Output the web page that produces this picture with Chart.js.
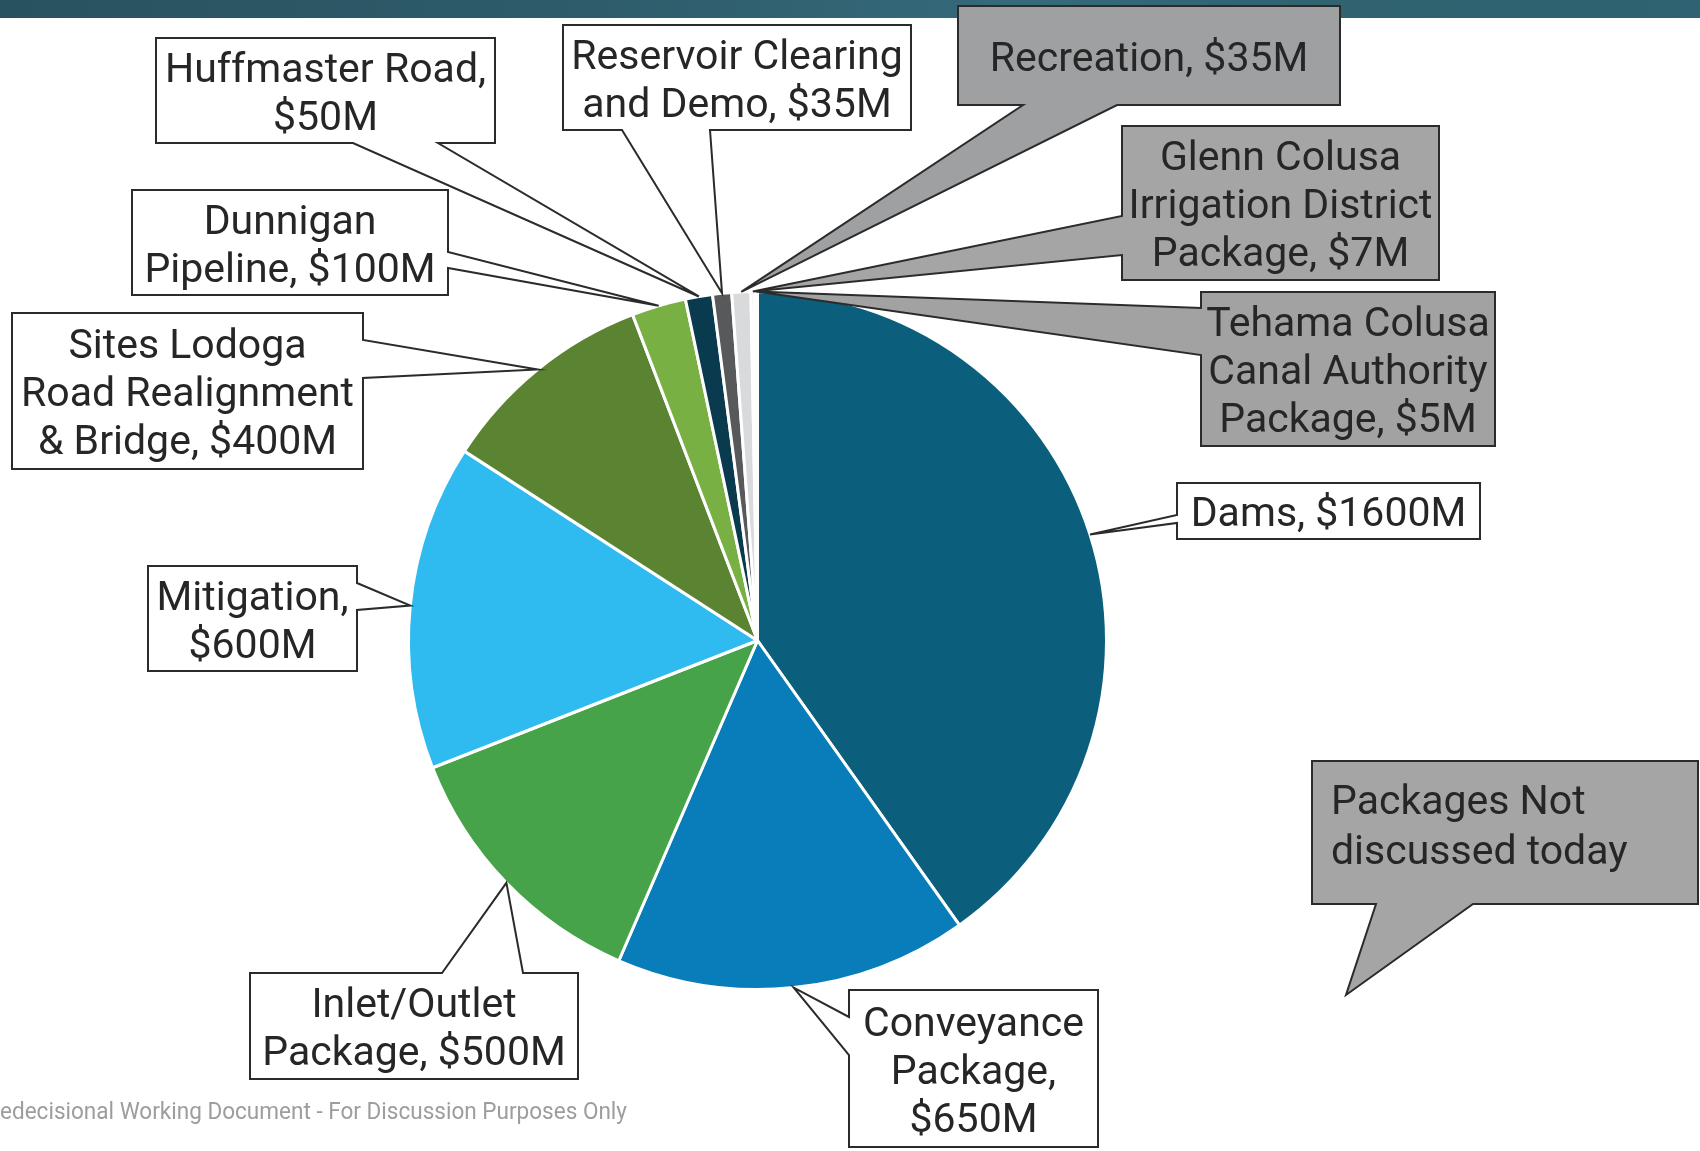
<!DOCTYPE html>
<html>
<head>
<meta charset="utf-8">
<script src="https://cdn.jsdelivr.net/npm/chart.js"></script>
<style>
html, body { margin: 0; padding: 0; background: #ffffff; }
#wrap { position: relative; width: 1700px; height: 1151px; }
</style>
</head>
<body>
<div id="wrap"><canvas id="c"></canvas></div>
<script>
// ---------------- DATA ----------------
const categories = [
  'Dams', 'Conveyance Package', 'Inlet/Outlet Package', 'Mitigation',
  'Sites Lodoga Road Realignment & Bridge', 'Dunnigan Pipeline', 'Huffmaster Road',
  'Reservoir Clearing and Demo', 'Recreation', 'Glenn Colusa Irrigation District Package',
  'Tehama Colusa Canal Authority Package'
];
const costs = [1600, 650, 500, 600, 400, 100, 50, 35, 35, 7, 5];
// label text lines, "#" is replaced with the cost
const labelLines = [
  ['Dams, #'],
  ['Conveyance', 'Package,', '#'],
  ['Inlet/Outlet', 'Package, #'],
  ['Mitigation,', '#'],
  ['Sites Lodoga', 'Road Realignment', '& Bridge, #'],
  ['Dunnigan', 'Pipeline, #'],
  ['Huffmaster Road,', '#'],
  ['Reservoir Clearing', 'and Demo, #'],
  ['Recreation, #'],
  ['Glenn Colusa', 'Irrigation District', 'Package, #'],
  ['Tehama Colusa', 'Canal Authority', 'Package, #']
];
const noteLines = ['Packages Not', 'discussed today'];
const footerText = 'Predecisional Working Document - For Discussion Purposes Only';

// ---------------- STYLE / LAYOUT ----------------
const sliceColors = ['#0b5f7c', '#087dba', '#47a349', '#2fbbef', '#5b8432', '#78b043',
                     '#0a3a4e', '#58595b', '#d9dadb', '#efefef', '#f8f8f8'];
const callouts = [
  { box: [1177, 483, 1480, 539], side: 'left',   at: [515, 523],  kind: 'white' },
  { box: [849, 990, 1098, 1147], side: 'left',   at: [1017, 1055], kind: 'white' },
  { box: [250, 973, 578, 1079],  side: 'top',    at: [442, 523],  kind: 'white' },
  { box: [148, 566, 357, 671],   side: 'right',  at: [583, 610],  kind: 'white' },
  { box: [12, 313, 363, 469],    side: 'right',  at: [340, 378],  kind: 'white' },
  { box: [132, 190, 448, 295],   side: 'right',  at: [252, 268],  kind: 'white' },
  { box: [156, 38, 495, 143],    side: 'bottom', at: [353, 438],  kind: 'white' },
  { box: [563, 25, 911, 130],    side: 'bottom', at: [622, 710],  kind: 'white' },
  { box: [958, 6, 1340, 105],    side: 'bottom', at: [1023, 1117], kind: 'gray', fill: '#9fa0a2' },
  { box: [1122, 126, 1439, 280], side: 'left',   at: [216, 255],  kind: 'gray', fill: '#a5a5a5' },
  { box: [1201, 292, 1495, 446], side: 'left',   at: [308, 355],  kind: 'gray', fill: '#a2a2a2' }
];
const noteBox = { box: [1312, 761, 1698, 904], side: 'bottom', at: [1376, 1473], tip: [1346, 995], fill: '#a5a5a5' };

const LABEL_FONT = '41px Roboto';
const LINE_H = 48;
const TEXT_COLOR = '#262626';

function calloutPath(ctx, c, tip) {
  const [x1, y1, x2, y2] = c.box;
  const [a, b] = c.at;
  ctx.beginPath();
  ctx.moveTo(x1, y1);
  if (c.side === 'top') { ctx.lineTo(a, y1); ctx.lineTo(tip[0], tip[1]); ctx.lineTo(b, y1); }
  ctx.lineTo(x2, y1);
  if (c.side === 'right') { ctx.lineTo(x2, a); ctx.lineTo(tip[0], tip[1]); ctx.lineTo(x2, b); }
  ctx.lineTo(x2, y2);
  if (c.side === 'bottom') { ctx.lineTo(b, y2); ctx.lineTo(tip[0], tip[1]); ctx.lineTo(a, y2); }
  ctx.lineTo(x1, y2);
  if (c.side === 'left') { ctx.lineTo(x1, b); ctx.lineTo(tip[0], tip[1]); ctx.lineTo(x1, a); }
  ctx.closePath();
}

function drawLines(ctx, lines, cx, cy) {
  ctx.font = LABEL_FONT;
  ctx.fillStyle = TEXT_COLOR;
  ctx.textAlign = 'center';
  ctx.textBaseline = 'alphabetic';
  const n = lines.length;
  lines.forEach((t, k) => {
    const yc = cy + (k - (n - 1) / 2) * LINE_H;
    ctx.fillText(t, cx, yc + 15);
  });
}

const calloutPlugin = {
  id: 'callouts',
  beforeDraw(chart) {
    const ctx = chart.ctx;
    ctx.save();
    const g = ctx.createLinearGradient(0, 0, 1700, 0);
    g.addColorStop(0, '#29525f');
    g.addColorStop(0.35, '#2e5c6b');
    g.addColorStop(0.6, '#356a7b');
    g.addColorStop(0.8, '#30626f');
    g.addColorStop(1, '#2f6272');
    ctx.fillStyle = g;
    ctx.fillRect(0, 0, 1700, 18);
    ctx.restore();
  },
  afterDatasetsDraw(chart) {
    const ctx = chart.ctx;
    const arcs = chart.getDatasetMeta(0).data;
    ctx.save();
    callouts.forEach((c, i) => {
      const p = arcs[i].getProps(['x', 'y', 'startAngle', 'endAngle', 'outerRadius'], true);
      const m = (p.startAngle + p.endAngle) / 2;
      const tip = [p.x + Math.cos(m) * p.outerRadius, p.y + Math.sin(m) * p.outerRadius];
      calloutPath(ctx, c, tip);
      ctx.fillStyle = c.kind === 'gray' ? c.fill : '#ffffff';
      ctx.fill();
      ctx.lineWidth = 2;
      ctx.strokeStyle = '#2b2b2b';
      ctx.lineJoin = 'miter';
      ctx.stroke();
      const lines = labelLines[i].map(t => t.replace('#', '$' + costs[i] + 'M'));
      drawLines(ctx, lines, (c.box[0] + c.box[2]) / 2, (c.box[1] + c.box[3]) / 2);
    });
    // note callout
    calloutPath(ctx, noteBox, noteBox.tip);
    ctx.fillStyle = noteBox.fill;
    ctx.fill();
    ctx.lineWidth = 2;
    ctx.strokeStyle = '#2b2b2b';
    ctx.stroke();
    ctx.font = LABEL_FONT;
    ctx.fillStyle = TEXT_COLOR;
    ctx.textAlign = 'left';
    ctx.fillText(noteLines[0], 1331, 814);
    ctx.fillText(noteLines[1], 1331, 864);
    // footer
    ctx.font = '24px Roboto';
    const part = footerText.slice(2);
    const sx = 627 / ctx.measureText(part).width;
    ctx.translate(627, 1119);
    ctx.scale(sx, 1);
    ctx.textAlign = 'right';
    ctx.fillStyle = '#9d9d9d';
    ctx.fillText(footerText, 0, 0);
    ctx.restore();
  }
};

new Chart(document.getElementById('c'), {
  type: 'pie',
  data: {
    labels: categories,
    datasets: [{
      data: costs,
      backgroundColor: sliceColors,
      borderColor: '#ffffff',
      borderWidth: 3
    }]
  },
  options: {
    responsive: true,
    maintainAspectRatio: false,
    animation: false,
    layout: { padding: { left: 407, right: 592, top: 290, bottom: 160 } },
    plugins: { legend: { display: false }, tooltip: { enabled: false } },
    events: []
  },
  plugins: [calloutPlugin]
});
</script>
</body>
</html>
